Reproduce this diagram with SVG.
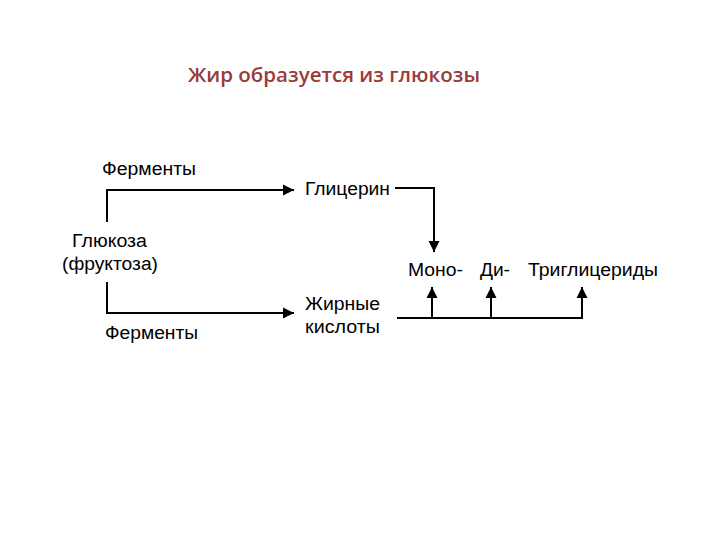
<svg xmlns="http://www.w3.org/2000/svg" width="720" height="540" viewBox="0 0 720 540">
<defs>
<marker id="ah" viewBox="0 0 10 10" refX="10" refY="5" markerWidth="11" markerHeight="12" markerUnits="userSpaceOnUse" orient="auto">
<path d="M0,0 L10,5 L0,10 Z" fill="#000"/>
</marker>
</defs>
<style>
.t{font-family:"Liberation Sans",Arial,sans-serif;font-size:18px;fill:#000}
.title{font-family:"Open Sans","Liberation Sans",sans-serif;font-size:20px;font-weight:600;fill:#9b3a3a}
.l{stroke:#000;stroke-width:2;fill:none}
</style>
<rect width="720" height="540" fill="#fff"/>
<text class="title" x="188" y="82" textLength="292" lengthAdjust="spacingAndGlyphs">Жир образуется из глюкозы</text>
<g id="connectors">
<path class="l" d="M107,222 V190 H294" marker-end="url(#ah)"/>
<path class="l" d="M107,282 V313 H294" marker-end="url(#ah)"/>
<path class="l" d="M395,188 H434 V252" marker-end="url(#ah)"/>
<path class="l" d="M397,318 H583"/>
<path class="l" d="M432,318 V287" marker-end="url(#ah)"/>
<path class="l" d="M491,318 V287" marker-end="url(#ah)"/>
<path class="l" d="M582,318 V287" marker-end="url(#ah)"/>
</g>
<g id="enz1"><text class="t" x="102" y="175" textLength="94" lengthAdjust="spacingAndGlyphs">Ферменты</text></g>
<g id="glucose"><text class="t" x="72" y="247" textLength="75" lengthAdjust="spacingAndGlyphs">Глюкоза</text><text class="t" x="62" y="270" textLength="96" lengthAdjust="spacingAndGlyphs">(фруктоза)</text></g>
<g id="enz2"><text class="t" x="105" y="339" textLength="93" lengthAdjust="spacingAndGlyphs">Ферменты</text></g>
<g id="glycerol"><text class="t" x="305" y="195" textLength="85" lengthAdjust="spacingAndGlyphs">Глицерин</text></g>
<g id="fatty"><text class="t" x="305" y="310" textLength="75" lengthAdjust="spacingAndGlyphs">Жирные</text><text class="t" x="305" y="333" textLength="75" lengthAdjust="spacingAndGlyphs">кислоты</text></g>
<g id="mono"><text class="t" x="408" y="276" textLength="55" lengthAdjust="spacingAndGlyphs">Моно-</text></g>
<g id="di"><text class="t" x="480" y="276" textLength="30" lengthAdjust="spacingAndGlyphs">Ди-</text></g>
<g id="tri"><text class="t" x="528" y="276" textLength="130" lengthAdjust="spacingAndGlyphs">Триглицериды</text></g>
</svg>
